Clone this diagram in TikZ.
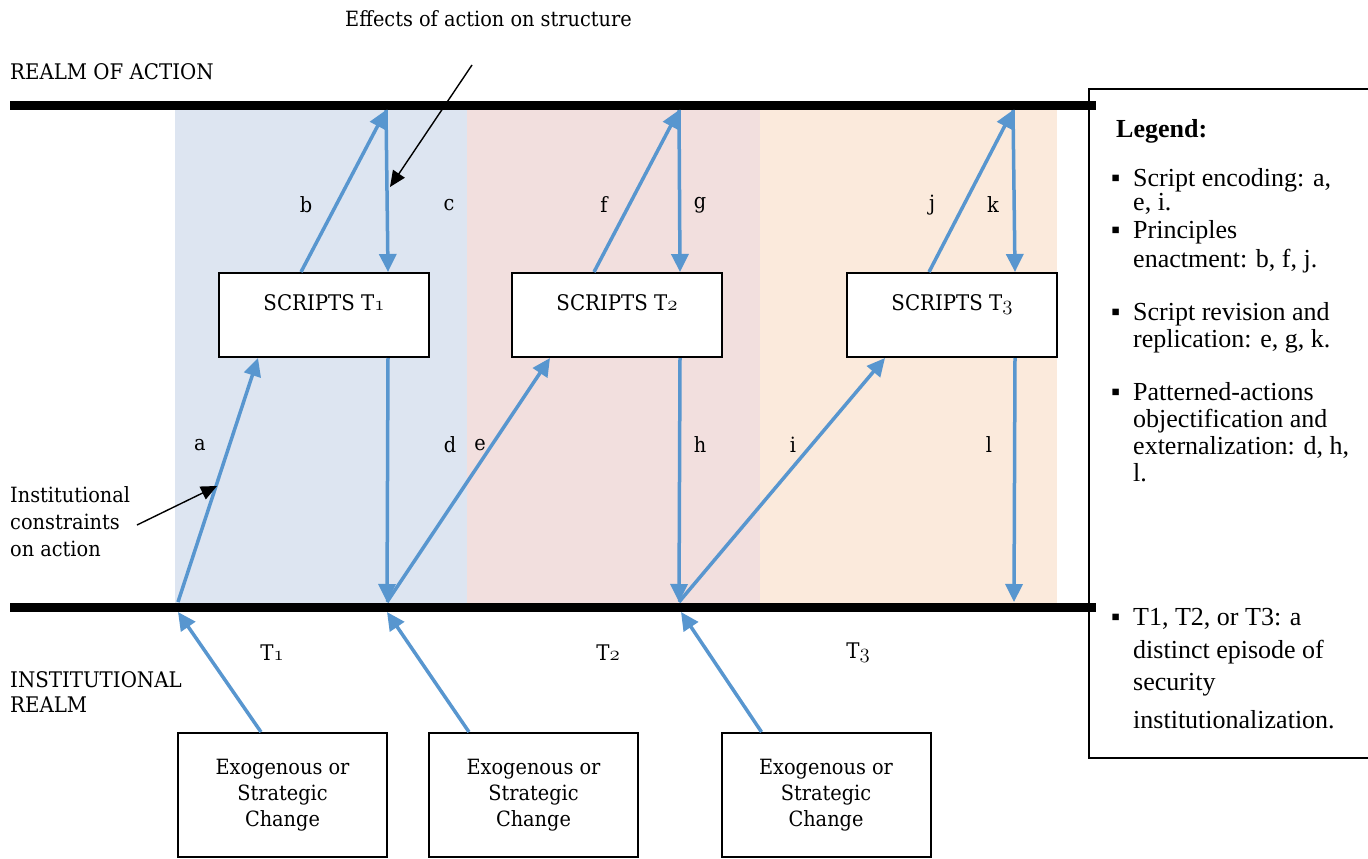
\documentclass[tikz,border=0pt]{standalone}
\usepackage{fontspec}
\usetikzlibrary{arrows.meta}
\newfontfamily\legendfont{Liberation Serif}
\newfontfamily\diagfont[FakeStretch=0.92]{DejaVu Serif}
\definecolor{flowblue}{RGB}{88,150,207}
\definecolor{bandblue}{RGB}{221,229,241}
\definecolor{bandpink}{RGB}{242,223,222}
\definecolor{bandpeach}{RGB}{251,234,220}
\newcommand\tnum[1]{{\usefont{OML}{cmm}{m}{it}#1}}
\newcommand\capfont{\diagfont\fontsize{21.5}{25}\selectfont}
\newcommand\txtfont{\diagfont\fontsize{21}{27}\selectfont}
\begin{document}
\begin{tikzpicture}[x=1pt, y=-1pt,
    sbox/.style={draw, line width=2pt, fill=white, minimum width=210pt, minimum height=84pt,
      inner sep=0pt, font=\capfont, text height=15pt, text depth=24pt},
    xbox/.style={draw, line width=2pt, fill=white, minimum width=209pt, minimum height=124pt,
      inner sep=0pt, align=center, font=\diagfont\fontsize{21}{26}\selectfont},
    flow/.style={draw=flowblue, line width=3.5pt, -{Triangle[length=18pt,width=17pt]}},
    ptr/.style={draw=black, line width=1.4pt, -{Triangle[length=16pt,width=14pt]}},
    lbl/.style={font=\txtfont, inner sep=0pt},
    legline/.style={anchor=base west, inner sep=0pt, font=\legendfont\fontsize{26}{30}\selectfont}]
  \useasboundingbox (0,0) rectangle (1368,859);
  % episode bands
  \fill[bandblue] (175,105) rectangle (467,607);
  \fill[bandpink] (467,105) rectangle (760,607);
  \fill[bandpeach] (760,105) rectangle (1057,607);
  % realm lines
  \coordinate (tl) at (10,105);
  \coordinate (tr) at (1096,105);
  \coordinate (bl) at (10,607);
  \coordinate (br) at (1096,607);
  \draw[line width=9pt] (tl) -- (tr);
  \draw[line width=9pt] (bl) -- (br);
  \node[anchor=base west, inner sep=0pt, font=\capfont] (action) at (10,80) {REALM OF ACTION};
  \node[anchor=west, align=left, inner sep=0pt, font=\capfont] (inst) at (10,692) {INSTITUTIONAL\\REALM};
  % scripts
  \node[sbox] (s1) at (324,315) {SCRIPTS T\tnum{1}};
  \node[sbox] (s2) at (617,315) {SCRIPTS T\tnum{2}};
  \node[sbox] (s3) at (952,315) {SCRIPTS T\tnum{3}};
  % exogenous change
  \node[xbox] (x1) at (282.5,795) {Exogenous or\\Strategic\\Change};
  \node[xbox] (x2) at (533.5,795) {Exogenous or\\Strategic\\Change};
  \node[xbox] (x3) at (826,795) {Exogenous or\\Strategic\\Change};
  % points on the realm lines
  \coordinate (top1) at (386,110);
  \coordinate (top2) at (679,110);
  \coordinate (top3) at (1013,110);
  \coordinate (bot1) at (178,602);
  \coordinate (bot2) at (387,602);
  \coordinate (bot3) at (679,602);
  \coordinate (bot4) at (1014,602);
  \coordinate (up1) at (178,612);
  \coordinate (up2) at (387,612);
  \coordinate (up3) at (681,612);
  % T1
  \draw[flow] (bot1) -- ([xshift=40pt]s1.south west);
  \draw[flow] ([xshift=83pt]s1.north west) -- (top1);
  \draw[flow] (top1) -- ([xshift=-42pt]s1.north east);
  \draw[flow] ([xshift=-42pt]s1.south east) -- (bot2);
  % T2
  \draw[flow] (bot2) -- ([xshift=39pt]s2.south west);
  \draw[flow] ([xshift=83pt]s2.north west) -- (top2);
  \draw[flow] (top2) -- ([xshift=-43pt]s2.north east);
  \draw[flow] ([xshift=-43pt]s2.south east) -- (bot3);
  % T3
  \draw[flow] (bot3) -- ([xshift=39pt]s3.south west);
  \draw[flow] ([xshift=83pt]s3.north west) -- (top3);
  \draw[flow] (top3) -- ([xshift=-43pt]s3.north east);
  \draw[flow] ([xshift=-43pt]s3.south east) -- (bot4);
  % exogenous inputs
  \draw[flow] ([xshift=84pt]x1.north west) -- (up1);
  \draw[flow] ([xshift=41pt]x2.north west) -- (up2);
  \draw[flow] ([xshift=41pt]x3.north west) -- (up3);
  % arrow labels
  \node[lbl] (la) at (200,445) {a};
  \node[lbl] (lb) at (306,205) {b};
  \node[lbl] (lc) at (449,205) {c};
  \node[lbl] (ld) at (450,445) {d};
  \node[lbl] (le) at (480,445) {e};
  \node[lbl] (lf) at (604,205) {f};
  \node[lbl] (lg) at (700,205) {g};
  \node[lbl] (lh) at (700,445) {h};
  \node[lbl] (li) at (793,445) {i};
  \node[lbl] (lj) at (932,205) {j};
  \node[lbl] (lk) at (993,205) {k};
  \node[lbl] (ll) at (989,445) {l};
  \node[font=\capfont] (t1) at (272,653) {T\tnum{1}};
  \node[font=\capfont] (t2) at (608,653) {T\tnum{2}};
  \node[font=\capfont] (t3) at (858,653) {T\tnum{3}};
  % annotations
  \node[anchor=base west, inner sep=0pt, font=\txtfont] (effects) at (345,27) {Effects of action on structure};
  \coordinate (effS) at (472,65);
  \coordinate (effT) at (390,187);
  \draw[ptr] (effS) -- (effT);
  \node[anchor=west, align=left, inner sep=0pt, font=\txtfont] (constr) at (10,522) {Institutional\\constraints\\on action};
  \coordinate (conS) at (137,525);
  \coordinate (conT) at (217,486);
  \draw[ptr] (conS) -- (conT);
  % legend
  \node[draw, line width=2pt, minimum width=300pt, minimum height=669pt, anchor=north west] (legend) at (1088,88) {};
  \node[anchor=base west, inner sep=0pt, font=\legendfont\fontsize{26}{30}\selectfont\bfseries] (legtitle) at (1116,137) {Legend:};
  \node[legline] (bul1) at (1111,186) {▪};
  \node[legline] (bul2) at (1111,238) {▪};
  \node[legline] (bul3) at (1111,320) {▪};
  \node[legline] (bul4) at (1111,400) {▪};
  \node[legline] (bul5) at (1111,625) {▪};
  \node[legline] (leg1) at (1133,186) {Script encoding: a,};
  \node[legline] (leg2) at (1133,210) {e, i.};
  \node[legline] (leg3) at (1133,238) {Principles};
  \node[legline] (leg4) at (1133,267) {enactment: b, f, j.};
  \node[legline] (leg5) at (1133,320) {Script revision and};
  \node[legline] (leg6) at (1133,347) {replication: e, g, k.};
  \node[legline] (leg7) at (1133,400) {Patterned-actions};
  \node[legline] (leg8) at (1133,427) {objectification and};
  \node[legline] (leg9) at (1133,454) {externalization: d, h,};
  \node[legline] (leg10) at (1133,481) {l.};
  \node[legline] (leg11) at (1133,625) {T1, T2, or T3: a};
  \node[legline] (leg12) at (1133,658) {distinct episode of};
  \node[legline] (leg13) at (1133,690) {security};
  \node[legline] (leg14) at (1133,728) {institutionalization.};
\end{tikzpicture}
\end{document}
